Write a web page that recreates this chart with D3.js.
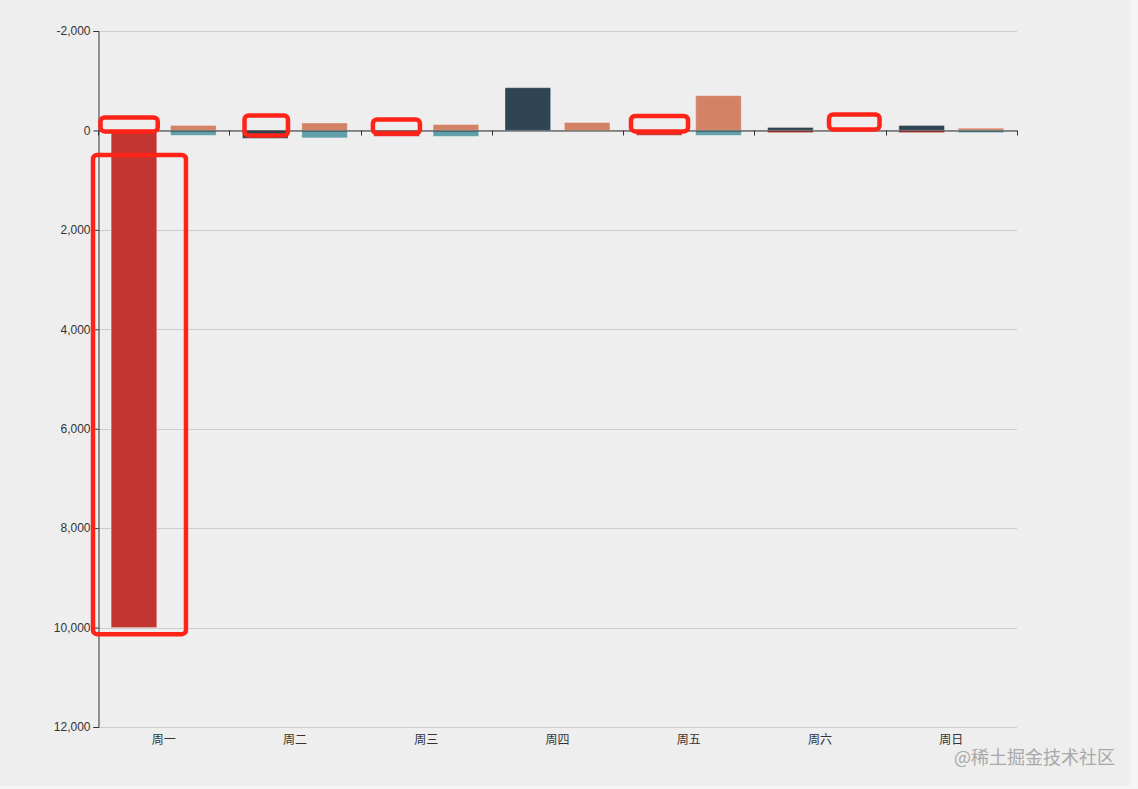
<!DOCTYPE html>
<html>
<head>
<meta charset="utf-8">
<script src="https://cdn.jsdelivr.net/npm/d3@7/dist/d3.min.js"></script>
<style>
  html, body { margin: 0; padding: 0; background: #f5f5f5; }
  svg { display: block; font-family: "Microsoft YaHei", "Noto Sans CJK SC", sans-serif; }
</style>
</head>
<body>
<svg id="chart" width="1130" height="786"></svg>
<script>
// ---- data ----
const categories = ['周一', '周二', '周三', '周四', '周五', '周六', '周日'];
const yTicks = [-2000, 0, 2000, 4000, 6000, 8000, 10000, 12000];
// stack A
const seriesDark = [0, 160, 0, -860, 0, -60, -100];
const seriesRed = [10000, 0, 120, 0, 100, 45, 45];
// stack B
const seriesOrange = [-100, -150, -120, -160, -700, 0, -45];
const seriesTeal = [100, 150, 120, 0, 100, 0, 45];
// highlight boxes (category, band-fraction span, value span)
const highlights = [
  { cat: '周一', f0: 0.019, f1: 0.455, v0: -260, v1: 20 },
  { cat: '周一', f0: -0.038, f1: 0.670, v0: 495, v1: 10133 },
  { cat: '周二', f0: 0.116, f1: 0.447, v0: -300, v1: 100 },
  { cat: '周三', f0: 0.094, f1: 0.452, v0: -220, v1: 60 },
  { cat: '周五', f0: 0.060, f1: 0.494, v0: -290, v1: 20 },
  { cat: '周六', f0: 0.568, f1: 0.953, v0: -320, v1: -20 }
];

const svg = d3.select('#chart');
svg.append('rect').attr('width', 1130).attr('height', 786).attr('fill', '#eeeeee');

const pLeft = 98, pRight = 1017, pTop = 31, pBottom = 727;
const x = d3.scaleBand().domain(categories).range([pLeft, pRight]).paddingInner(0).paddingOuter(0);
const y = d3.scaleLinear().domain([-2000, 12000]).range([pTop, pBottom]);
const bw = x.bandwidth();
const inner = d3.scaleBand().domain(['A', 'B']).range([0.1 * bw, 0.9 * bw]).paddingInner(0.3 / 1.3).paddingOuter(0);

// grid
svg.append('g').selectAll('line').data(yTicks).join('line')
  .attr('x1', pLeft).attr('x2', pRight)
  .attr('y1', d => Math.round(y(d)) + 0.5).attr('y2', d => Math.round(y(d)) + 0.5)
  .attr('stroke', '#cccccc').attr('stroke-width', 1);

// bars
const stacks = [
  { key: 'A', series: [{ vals: seriesDark, color: '#2f4554' }, { vals: seriesRed, color: '#c23531' }] },
  { key: 'B', series: [{ vals: seriesOrange, color: '#d48265' }, { vals: seriesTeal, color: '#61a0a8' }] }
];
const barG = svg.append('g');
stacks.forEach(st => {
  const rows = categories.map((c, i) => {
    const r = { cat: c };
    st.series.forEach((s, j) => r['s' + j] = s.vals[i]);
    return r;
  });
  const keys = st.series.map((s, j) => 's' + j);
  const layers = d3.stack().keys(keys).offset(d3.stackOffsetDiverging)(rows);
  layers.forEach((layer, j) => {
    barG.append('g').selectAll('rect').data(layer.filter(d => d[1] !== d[0])).join('rect')
      .attr('x', d => x(d.data.cat) + inner(st.key))
      .attr('width', inner.bandwidth())
      .attr('y', d => y(Math.min(d[0], d[1])))
      .attr('height', d => Math.abs(y(d[1]) - y(d[0])))
      .attr('fill', st.series[j].color)
      .attr('stroke', 'rgba(255,255,255,0.35)')
      .attr('stroke-width', 1);
  });
});

// y axis
const fmt = d3.format(',');
const yAxis = d3.axisLeft(y).tickValues(yTicks).tickSize(5).tickPadding(3)
  .tickFormat(d => fmt(d).replace('\u2212', '-'));
const yg = svg.append('g').attr('transform', `translate(${pLeft + 0.5},0)`).call(yAxis);
yg.select('.domain').attr('stroke', '#333');
yg.selectAll('.tick line').attr('stroke', '#333');
yg.selectAll('.tick text').attr('fill', '#333').style('font-size', '12px');

// x axis at zero
const xAxis = d3.axisBottom(x).tickSize(0).tickPadding(0);
const xg = svg.append('g').attr('transform', `translate(0,${Math.round(y(0)) + 0.5})`).call(xAxis);
xg.select('.domain').attr('stroke', '#333');
xg.selectAll('.tick text').remove();
const bounds = categories.map(c => x(c)).concat([pRight]);
xg.selectAll('line.bt').data(bounds).join('line').attr('class', 'bt')
  .attr('x1', d => Math.round(d) + 0.5).attr('x2', d => Math.round(d) + 0.5)
  .attr('y1', 0).attr('y2', 5).attr('stroke', '#333');
// category labels at bottom
svg.append('g').selectAll('text').data(categories).join('text')
  .attr('x', d => x(d) + bw / 2).attr('y', pBottom + 17)
  .attr('text-anchor', 'middle').attr('fill', '#333').style('font-size', '12px')
  .text(d => d);

// red highlights
svg.append('g').selectAll('rect').data(highlights).join('rect')
  .attr('x', d => x(d.cat) + d.f0 * bw)
  .attr('width', d => (d.f1 - d.f0) * bw)
  .attr('y', d => y(d.v0)).attr('height', d => y(d.v1) - y(d.v0))
  .attr('rx', 4).attr('fill', 'none').attr('stroke', '#ff2318').attr('stroke-width', 4.5);

// watermark
svg.append('text').attr('x', 1115).attr('y', 764).attr('text-anchor', 'end')
  .attr('fill', '#a8a8a8').style('font-size', '18px').text('@稀土掘金技术社区');
</script>
</body>
</html>
